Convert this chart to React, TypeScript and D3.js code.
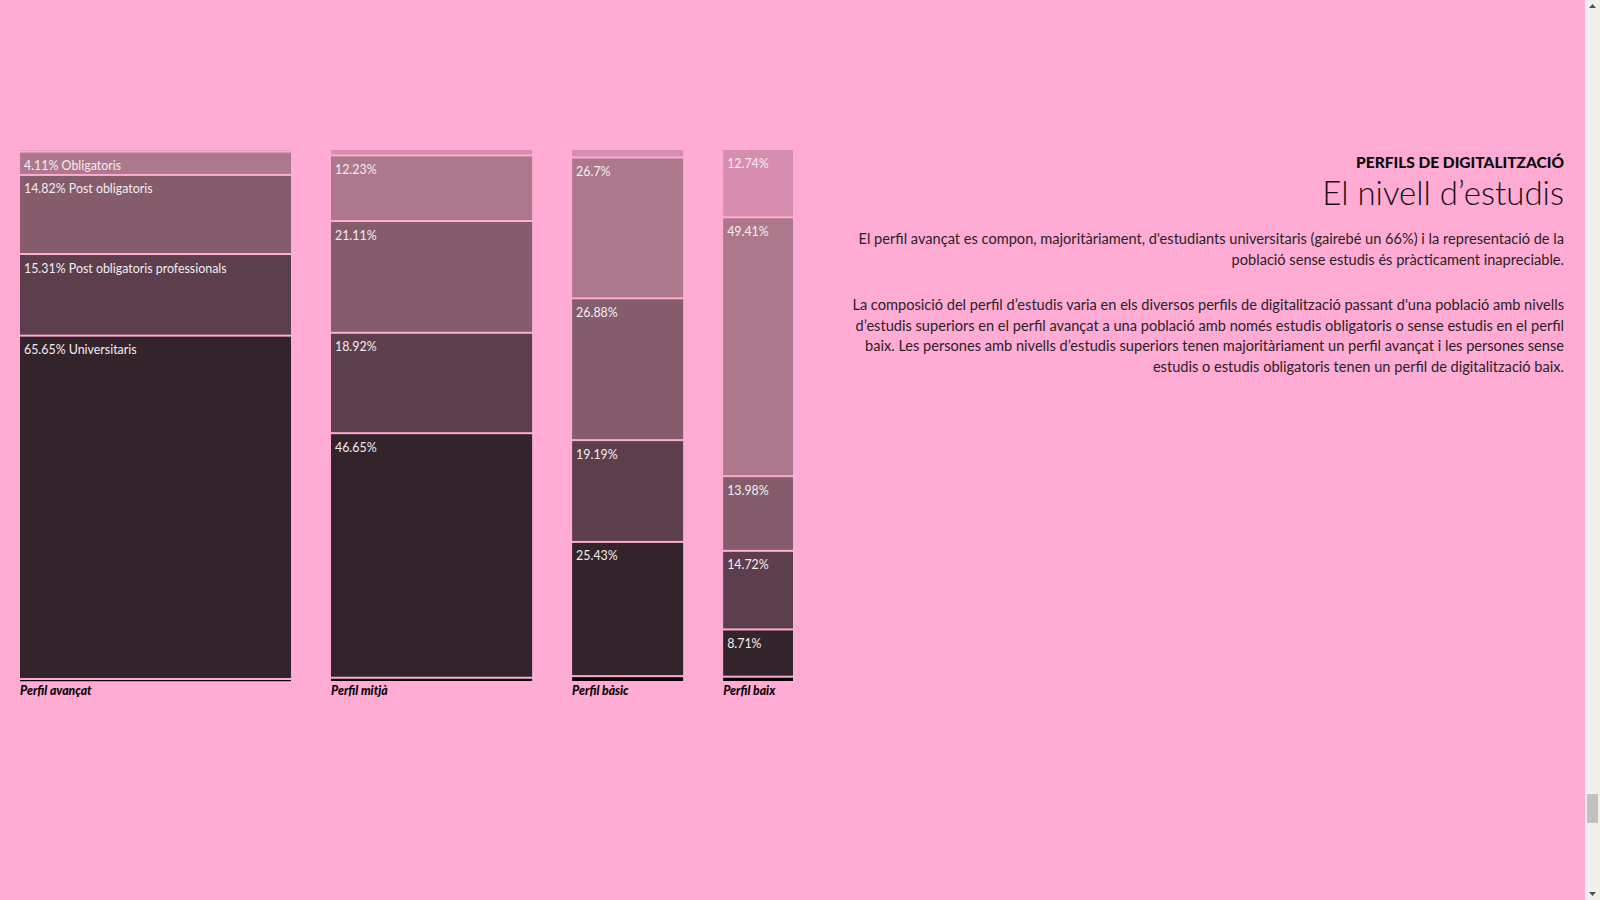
import { useEffect, useRef } from 'react';
import * as d3 from 'd3';

const profiles = ['Perfil avançat', 'Perfil mitjà', 'Perfil bàsic', 'Perfil baix'];
// pes de cada perfil (amplada de la barra), llegit de la imatge
const profileShare = [41.5, 30.8, 17.0, 10.7];

// nivells d'estudis, de dalt a baix de la barra
const levels = ['Sense estudis', 'Obligatoris', 'Post obligatoris', 'Post obligatoris professionals', 'Universitaris'];
const senseEstudis = [0.11, 0.85, 1.25, 12.74];
const obligatoris = [4.11, 12.23, 26.7, 49.41];
const postObligatoris = [14.82, 21.11, 26.88, 13.98];
const postProfessionals = [15.31, 18.92, 19.19, 14.72];
const universitaris = [65.65, 46.65, 25.43, 8.71];
const levelColors = ['#d68dae', '#ae788c', '#855c6c', '#5d3e4c', '#33242b'];

const kicker = 'PERFILS DE DIGITALITZACIÓ';
const title = 'El nivell d’estudis';
const paragraph1 = [
  "El perfil avançat es compon, majoritàriament, d'estudiants universitaris (gairebé un 66%) i la representació de la",
  'població sense estudis és pràcticament inapreciable.',
];
const paragraph2 = [
  "La composició del perfil d’estudis varia en els diversos perfils de digitalització passant d'una població amb nivells",
  'd’estudis superiors en el perfil avançat a una població amb només estudis obligatoris o sense estudis en el perfil',
  'baix. Les persones amb nivells d’estudis superiors tenen majoritàriament un perfil avançat i les persones sense',
  'estudis o estudis obligatoris tenen un perfil de digitalització baix.',
];

const BG = '#ffabd3';

export default function App() {
  const ref = useRef<SVGSVGElement>(null);

  useEffect(() => {
    const svg = d3.select(ref.current);
    svg.selectAll('*').remove();

    svg.append('rect').attr('width', 1585).attr('height', 900).attr('fill', BG);

    // barra de desplaçament de la pàgina
    svg.append('rect').attr('x', 1585).attr('width', 15).attr('height', 900).attr('fill', '#f0f0f0');
    svg.append('rect').attr('x', 1587).attr('y', 794).attr('width', 11).attr('height', 29).attr('fill', '#c1c1c1');
    svg.append('path').attr('d', 'M1589,8 L1596,8 L1592.5,4 Z').attr('fill', '#505050');
    svg.append('path').attr('d', 'M1589,892 L1596,892 L1592.5,896 Z').attr('fill', '#505050');

    const series = [senseEstudis, obligatoris, postObligatoris, postProfessionals, universitaris];

    const gap = 40;
    const segGap = 2;
    const left = 20;
    const top = 150;
    const totalWidth = 773;
    const wScale = d3.scaleLinear()
      .domain([0, d3.sum(profileShare)])
      .range([0, totalWidth - gap * (profiles.length - 1)]);
    const xPos = profileShare.map((_, i) => left + wScale(d3.sum(profileShare.slice(0, i))) + gap * i);
    const hScale = d3.scaleLinear().domain([0, 100]).range([0, 520]);
    const color = d3.scaleOrdinal<string, string>().domain(levels).range(levelColors);

    // segments apilats des de dalt, amb un petit espai entre ells
    const segs: { i: number; key: string; value: number; y: number; h: number }[] = [];
    const bottoms: number[] = [];
    profiles.forEach((_, i) => {
      let y = top;
      levels.forEach((key, k) => {
        const value = series[k][i];
        const h = hScale(value);
        segs.push({ i, key, value, y, h });
        y += h + segGap;
      });
      bottoms.push(y - segGap);
    });

    svg.selectAll('rect.seg')
      .data(segs)
      .join('rect')
      .attr('class', 'seg')
      .attr('x', d => xPos[d.i])
      .attr('y', d => d.y)
      .attr('width', d => wScale(profileShare[d.i]))
      .attr('height', d => d.h)
      .attr('fill', d => color(d.key));

    svg.selectAll('text.seg')
      .data(segs.filter(d => d.value >= 3))
      .join('text')
      .attr('class', 'seg')
      .attr('x', d => xPos[d.i] + 4)
      .attr('y', d => d.y + 17.5)
      .attr('fill', '#f4ecef')
      .style('font-family', 'Lato, "Noto Sans", sans-serif')
      .style('font-size', '12.4px')
      .text(d => (d.i === 0 ? `${d.value}% ${d.key}` : `${d.value}%`));

    // línia base i nom del perfil
    svg.selectAll('rect.base')
      .data(profiles)
      .join('rect')
      .attr('class', 'base')
      .attr('x', (_, i) => xPos[i])
      .attr('y', (_, i) => bottoms[i] + 2)
      .attr('width', (_, i) => wScale(profileShare[i]))
      .attr('height', (_, i) => Math.max(1.2, 681 - (bottoms[i] + 2)))
      .attr('fill', '#0b0306');

    svg.selectAll('text.cat')
      .data(profiles)
      .join('text')
      .attr('class', 'cat')
      .attr('transform', (_, i) => `translate(${xPos[i]},695) scale(0.94,1)`)
      .attr('fill', '#0b0306')
      .style('font-family', 'Lato, sans-serif')
      .style('font-weight', 900)
      .style('font-style', 'italic')
      .style('font-size', '13px')
      .text(d => d);

    // text de la dreta
    const right = 1564;
    svg.append('text')
      .attr('x', right).attr('y', 167.5)
      .attr('text-anchor', 'end')
      .attr('fill', '#0a0708')
      .style('font-family', 'Lato, sans-serif')
      .style('font-weight', 900)
      .style('font-size', '15.5px')
      .text(kicker);

    svg.append('text')
      .attr('x', right).attr('y', 204.5)
      .attr('text-anchor', 'end')
      .attr('fill', '#161013')
      .style('font-family', 'Lato, sans-serif')
      .style('font-weight', 300)
      .style('font-size', '33px')
      .text(title);

    const para = (lines: string[], y0: number) => svg.append('g')
      .selectAll('text')
      .data(lines)
      .join('text')
      .attr('x', right)
      .attr('y', (_, i) => y0 + i * 20.5)
      .attr('text-anchor', 'end')
      .attr('fill', '#2a2226')
      .style('font-family', 'Lato, sans-serif')
      .style('font-weight', 400)
      .style('font-size', '14.6px')
      .text(d => d);

    para(paragraph1, 244);
    para(paragraph2, 310);
  }, []);

  return (
    <div style={{ position: 'absolute', left: 0, top: 0 }}>
      <svg ref={ref} width={1600} height={900} style={{ display: 'block' }} />
    </div>
  );
}
